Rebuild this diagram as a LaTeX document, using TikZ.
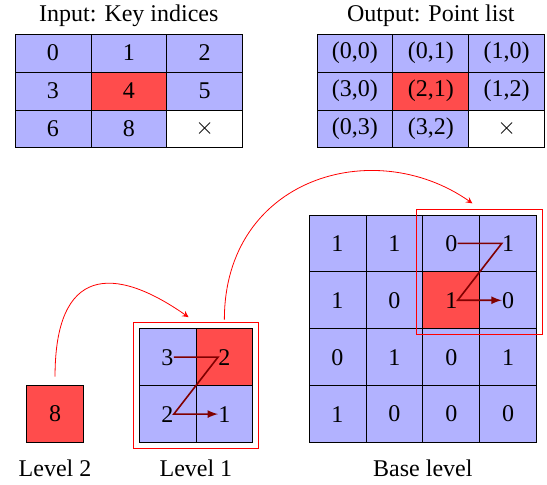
\documentclass[tikz,border=0pt]{standalone}
\usepackage{fontspec}
\setmainfont{Liberation Serif}
\usetikzlibrary{positioning}
\usetikzlibrary{fit}
\usetikzlibrary{arrows,calc}

\begin{document}
\begin{tikzpicture}[
    font=\large,
    basic/.style={draw,inner sep=0pt,outer sep=0pt},
    keycell/.style={basic,minimum width=1.333cm,minimum height=0.667cm},
    gridcell/.style={basic,minimum size=1cm},
    cool/.style={fill=blue!30},
    hot/.style={fill=red!70},
    blank/.style={fill=white},
    digit/.style={inner sep=0pt},
    window/.style={draw=red,inner sep=3pt},
    zig/.style={draw,thick,red!50!black,-latex},
    hop/.style={draw,red,-stealth,shorten <=4.5pt,shorten >=4.5pt},
]
    \useasboundingbox (0,0) rectangle (9.613,-8.506);

    % key indices and point list
    \foreach \v/\f [count=\i from 0] in {0/cool,1/cool,2/cool,3/cool,4/hot,5/cool,6/cool,8/cool,$\times$/blank}{
        \pgfmathtruncatemacro{\r}{div(\i,3)}
        \pgfmathtruncatemacro{\c}{mod(\i,3)}
        \node[keycell,\f] (k-\r-\c) at (0.931+1.333*\c,-0.931-0.667*\r) {\v};
    }
    \foreach \v/\f [count=\i from 0] in {{(0,0)}/cool,{(0,1)}/cool,{(1,0)}/cool,{(3,0)}/cool,{(2,1)}/hot,{(1,2)}/cool,{(0,3)}/cool,{(3,2)}/cool,$\times$/blank}{
        \pgfmathtruncatemacro{\r}{div(\i,3)}
        \pgfmathtruncatemacro{\c}{mod(\i,3)}
        \node[keycell,\f] (p-\r-\c) at (6.238+1.333*\c,-0.931-0.667*\r) {\v};
    }
    \node[above=0pt of k-0-1] (tin) {Input: Key indices};
    \node[above=0pt of p-0-1] (tout) {Output: Point list};

    % base level
    \foreach \v/\f [count=\i from 0] in {1/cool,1/cool,0/cool,1/cool,1/cool,0/cool,1/hot,0/cool,0/cool,1/cool,0/cool,1/cool,1/cool,0/cool,0/cool,0/cool}{
        \pgfmathtruncatemacro{\r}{div(\i,4)}
        \pgfmathtruncatemacro{\c}{mod(\i,4)}
        \node[gridcell,\f] (b-\r-\c) at (5.931+\c,-4.277-\r) {};
        \node[digit] (bd-\r-\c) at (b-\r-\c) {\v};
    }
    % level 1
    \foreach \v/\f [count=\i from 0] in {3/cool,2/hot,2/cool,1/cool}{
        \pgfmathtruncatemacro{\r}{div(\i,2)}
        \pgfmathtruncatemacro{\c}{mod(\i,2)}
        \node[gridcell,\f] (c-\r-\c) at (2.943+\c,-6.277-\r) {};
        \node[digit] (cd-\r-\c) at (c-\r-\c) {\v};
    }
    % level 2
    \node[gridcell,hot] (l2) at (0.967,-7.277) {8};

    \node[window,fit=(c-0-0)(c-1-1)] (f1) {};
    \node[window,fit=(b-0-2)(b-1-3)] (f0) {};

    \draw[zig] (cd-0-0.east) -- (cd-0-1.west) -- (cd-1-0.east) -- (cd-1-1.west);
    \draw[zig] (bd-0-2.east) -- (bd-0-3.west) -- (bd-1-2.east) -- (bd-1-3.west);

    \draw[hop] (l2.north) to[out=90,in=145,out distance=2.1cm,in distance=1.76cm] (f1.north);
    \draw[hop] (c-0-1.north) to[out=90,in=145,out distance=2.64cm,in distance=2.28cm] (f0.north);

    \node[below=5pt of l2] (lab2) {Level 2};
    \node[below=5pt of c-1-0.south east] (lab1) {Level 1};
    \node[below=5pt of b-3-1.south east] (lab0) {Base level};
\end{tikzpicture}
\end{document}
